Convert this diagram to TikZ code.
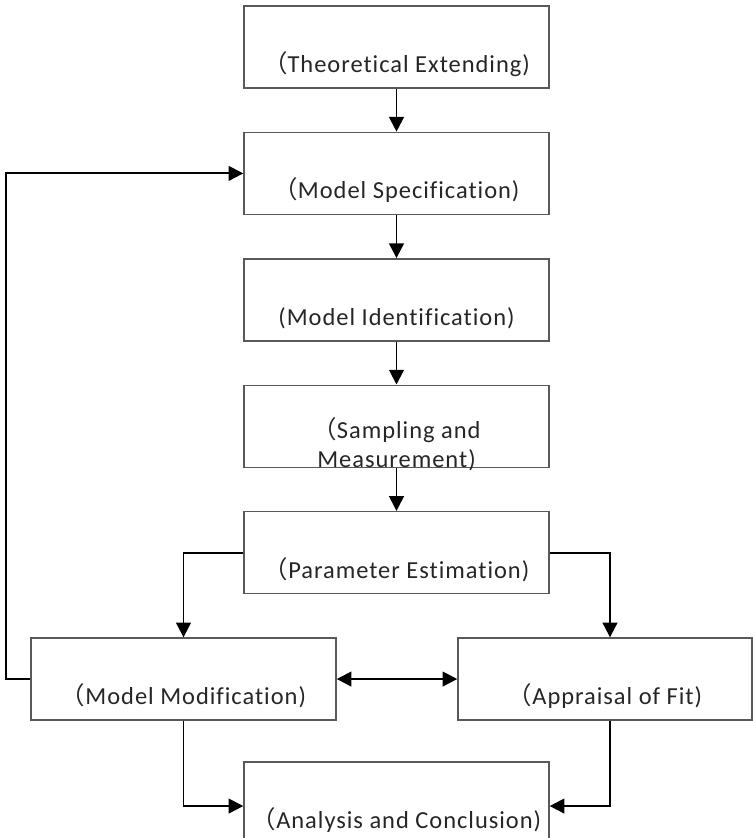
\documentclass[tikz,border=0pt]{standalone}
\usepackage{fontspec}
\setmainfont{Carlito}[LetterSpace=4, Ligatures={NoCommon, NoRare}]
\newfontfamily\cjk{Noto Sans CJK SC}
\usetikzlibrary{arrows.meta}
\usetikzlibrary{calc}
\usetikzlibrary{positioning}
\newcommand{\fwparen}{{\cjk （}}

\begin{document}
\begin{tikzpicture}[->,>={Triangle[length=10.5pt,width=10.5pt]},line width=1.4pt,node distance=1.075cm]
	\tikzstyle{stage}=[draw=black!65, line width=1pt, rectangle, minimum width=7.625cm, minimum height=2.05cm, inner sep=0pt, text height=36.2pt, text depth=0pt, text=black!85, font=\fontsize{17.4}{20.6}\selectfont]
	\useasboundingbox (0,0) rectangle (18.825,-20.95);
	\node[stage] 		(theory) at (9.9125,-1.175)		{\fwparen Theoretical Extending)};
	\node[stage] 		(spec) [below=of theory]		{\fwparen Model Specification)};
	\node[stage] 		(ident) [below=of spec]		{(Model Identification)};
	\node[stage, align=center, text height=58.3pt] 	(sample) [below=of ident]	{\fwparen Sampling and\\Measurement)};
	\node[stage] 		(param) [below=of sample]		{\fwparen Parameter Estimation)};
	\node[stage] 		(modify) [below=of param, xshift=-5.325cm]	{\fwparen Model Modification)};
	\node[stage, minimum width=7.35cm] 	(fit) [below=of param, xshift=5.2125cm]	{\fwparen Appraisal of Fit)};
	\node[stage, minimum height=2.2cm, text height=31.3pt] 	(concl) [below=4.175cm of param]	{\fwparen Analysis and Conclusion)};
	\path
		(theory) edge (spec)
		(spec) edge (ident)
		(ident) edge (sample)
		(sample) edge (param)
		(modify) edge[<->] (fit);
	\draw (param.west) -| (modify.north);
	\draw (param.east) -| ([xshift=0.125cm]fit.north);
	\draw (modify.south) |- (concl.west);
	\draw ([xshift=0.125cm]fit.south) |- (concl.east);
	% loop back to the specification step
	\draw (modify.west) -- ++(-0.6,0) |- (spec.west);
\end{tikzpicture}
\end{document}
